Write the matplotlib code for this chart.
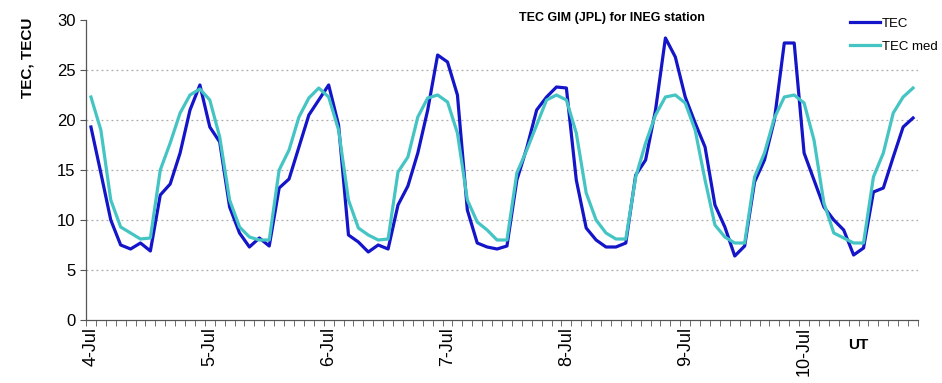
import matplotlib
matplotlib.use('Agg')
import matplotlib.pyplot as plt
import numpy as np

plt.rcParams['font.family'] = ['Liberation Sans', 'DejaVu Sans']

# 2-hourly values, 4-Jul 00 UT .. 10-Jul 22 UT
tec = [19.3, 14.7, 10.0, 7.5, 7.1, 7.7, 6.9, 12.5, 13.6, 16.7, 21.0, 23.5,
       19.3, 17.8, 11.3, 8.7, 7.3, 8.2, 7.4, 13.2, 14.1, 17.3, 20.5, 22.0,
       23.5, 19.5, 8.5, 7.8, 6.8, 7.5, 7.1, 11.5, 13.4, 16.7, 21.0, 26.5,
       25.8, 22.5, 11.0, 7.7, 7.3, 7.1, 7.4, 14.0, 17.2, 21.0, 22.3, 23.3,
       23.2, 14.0, 9.2, 8.0, 7.3, 7.3, 7.7, 14.5, 16.0, 21.0, 28.2, 26.3,
       22.3, 19.7, 17.3, 11.5, 9.3, 6.4, 7.4, 13.8, 16.0, 20.0, 27.7, 27.7,
       16.7, 14.0, 11.3, 10.0, 9.0, 6.5, 7.2, 12.8, 13.2, 16.3, 19.3, 20.2]
tec_med = [22.3, 19.0, 12.0, 9.3, 8.7, 8.1, 8.2, 15.0, 17.7, 20.7, 22.5, 23.1,
           22.0, 18.3, 12.0, 9.3, 8.3, 8.0, 8.0, 15.0, 17.0, 20.3, 22.2, 23.2,
           22.3, 19.0, 12.0, 9.2, 8.5, 8.0, 8.1, 14.8, 16.3, 20.3, 22.2, 22.5,
           21.8, 18.7, 12.0, 9.8, 9.0, 8.0, 8.0, 14.7, 17.0, 19.5, 22.0, 22.5,
           22.0, 18.7, 12.7, 10.0, 8.7, 8.1, 8.1, 14.3, 17.7, 20.5, 22.3, 22.5,
           21.7, 19.0, 14.0, 9.5, 8.3, 7.7, 7.7, 14.3, 16.7, 20.2, 22.3, 22.5,
           21.7, 18.0, 11.7, 8.7, 8.2, 7.7, 7.7, 14.3, 16.7, 20.7, 22.3, 23.2]
day_labels = ['4-Jul', '5-Jul', '6-Jul', '7-Jul', '8-Jul', '9-Jul', '10-Jul']
points_per_day = 12

x = np.arange(len(tec))

fig = plt.figure(figsize=(9.42, 3.83), dpi=100)
ax = fig.add_axes([86 / 942, 1 - 320 / 383, 832 / 942, 300 / 383])

ax.plot(x, tec, color='#1414c8', lw=2.3, label='TEC', zorder=3)
ax.plot(x, tec_med, color='#45c4c4', lw=2.3, label='TEC med', zorder=3)

ax.set_xlim(-0.5, len(tec) - 0.5)
ax.set_ylim(0, 30)
ax.set_yticks(np.arange(0, 31, 5))
for v in range(5, 30, 5):
    ax.axhline(v, color='#aaaaaa', lw=0.9, ls=(0, (1.5, 2.5)), zorder=1)

ax.set_xticks(np.arange(0, len(tec), points_per_day))
ax.set_xticklabels(day_labels, rotation=90, fontsize=13)
ax.set_xticks(np.arange(-0.5, len(tec), 1), minor=True)
ax.tick_params(axis='x', which='major', length=0, pad=5)
ax.tick_params(axis='x', which='minor', length=4, direction='out', color='#555555')
ax.tick_params(axis='y', length=4, direction='out', labelsize=12, color='#555555')

for s in ['top', 'right']:
    ax.spines[s].set_visible(False)
for s in ['left', 'bottom']:
    ax.spines[s].set_color('#555555')
    ax.spines[s].set_linewidth(0.9)

fig.text(27 / 942, 1 - 58 / 383, 'TEC, TECU', rotation=90, fontsize=11,
         fontweight='bold', ha='center', va='center')
fig.text(612 / 942, 1 - 18 / 383, 'TEC GIM (JPL) for INEG station', fontsize=9,
         fontweight='bold', ha='center', va='center')
fig.text(858 / 942, 1 - 345 / 383, 'UT', fontsize=11, fontweight='bold',
         ha='center', va='center')

ax.legend(loc='upper left', bbox_to_anchor=(838 / 942, 1 - 6 / 383),
          bbox_transform=fig.transFigure, frameon=False, fontsize=9.5,
          handlelength=2.3, handletextpad=0.1, labelspacing=0.8)

fig.savefig('out.png', dpi=100)
